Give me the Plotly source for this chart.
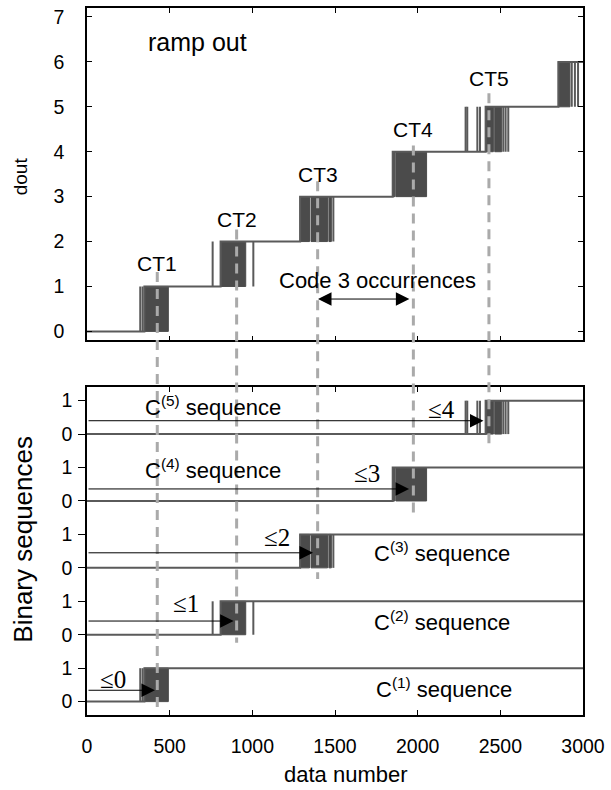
import plotly.graph_objects as go
from plotly.subplots import make_subplots

# ---- data -------------------------------------------------------------
X_MAX = 3000
N_CODES = 6

# dense toggling bursts for every code transition k-1 -> k (data-number intervals)
bursts = {
    1: [[347, 492]],
    2: [[808, 960]],
    3: [[1289, 1346], [1355, 1455], [1463, 1478]],
    4: [[1849, 1862], [1868, 2054]],
    5: [[2411, 2458], [2466, 2508]],
    6: [[2851, 2921]],
}
# isolated single toggles around each transition
spikes = {
    1: [322, 336],
    2: [760, 1006],
    3: [1490],
    4: [],
    5: [2290, 2300, 2361, 2377, 2518, 2532, 2548],
    6: [2932, 2951, 2970],
}

ct_names = ["CT1", "CT2", "CT3", "CT4", "CT5"]
ct_x = [425, 905, 1395, 1974, 2431]
ct_label_y = [1.52, 2.49, 3.50, 4.49, 5.62]
ct_line_top = [1.32, 2.27, 3.34, 4.14, 5.30]      # dout value where marker starts
seq_line_end = [-0.28, -0.24, -0.33, -0.45, -0.39]  # offset below each C(k) low level

arrow_tip_x = [411, 887, 1367, 1948, 2398]
arrow_y = [0.34, 0.41, 0.45, 0.36, 0.40]           # offset above each C(k) low level
le_labels = ["\u22640", "\u22641", "\u22642", "\u22643", "\u22644"]
le_label_x = [159, 596, 1147, 1693, 2146]
le_label_y = [0.65, 0.94, 0.91, 0.82, 0.75]
seq_label_x = [2160, 2148, 2148, 764, 764]
seq_label_y = [0.42, 0.41, 0.46, 0.96, 0.84]

x_ticks = [0, 500, 1000, 1500, 2000, 2500, 3000]
top_ticks = [0, 1, 2, 3, 4, 5, 6, 7]
bin_tick_vals = list(range(10))
bin_tick_text = ["0", "1"] * 5

TOP_RANGE = [-0.2, 7.2]
BOT_RANGE = [-0.4, 9.41]
TOP_DOMAIN = [0.5299, 1.0]
BOT_DOMAIN = [0.0, 0.464]

LINE = "#5a5a5a"
BLOCK = "#4b4b4b"
DASH = "#aaaaaa"
FONT = "Liberation Sans, Arial, Helvetica, sans-serif"
SERIF = "Liberation Serif, Times New Roman, serif"


def block_start(k):
    return min(b[0] for b in bursts[k])


def burst_and_spike_paths(levels, lo_of, hi_of):
    """Burst rectangles and single-toggle spikes for the transitions in `levels`."""
    bx, by, px, py = [], [], [], []
    for k in levels:
        lo, hi = lo_of(k), hi_of(k)
        for x0, x1 in bursts[k]:
            bx += [x0, x1, x1, x0, x0, None]
            by += [lo, lo, hi, hi, lo, None]
        for x in spikes[k]:
            px += [x, x, None]
            py += [lo, hi, None]
    return bx, by, px, py


fig = make_subplots(rows=2, cols=1, shared_xaxes=False, vertical_spacing=0.05)

# ---- top panel: ramp output -------------------------------------------
step_x, step_y = [0], [0]
for k in range(1, N_CODES + 1):
    s = block_start(k)
    step_x += [s, s]
    step_y += [k - 1, k]
step_x.append(X_MAX)
step_y.append(N_CODES)

bx, by, px, py = burst_and_spike_paths(range(1, N_CODES + 1), lambda k: k - 1, lambda k: k)
fig.add_trace(go.Scatter(x=bx, y=by, mode="lines", fill="toself", fillcolor=BLOCK,
                         line=dict(color=BLOCK, width=1), hoverinfo="skip"), row=1, col=1)
fig.add_trace(go.Scatter(x=px, y=py, mode="lines", line=dict(color=LINE, width=2),
                         hoverinfo="skip"), row=1, col=1)
fig.add_trace(go.Scatter(x=step_x, y=step_y, mode="lines", line=dict(color=LINE, width=2),
                         hoverinfo="skip"), row=1, col=1)

# ---- bottom panel: binary sequences C(1)..C(5) --------------------------
seq_x, seq_y = [], []
for k in range(1, 6):
    lo = 2 * (k - 1)
    s = block_start(k)
    seq_x += [0, s, s, X_MAX, None]
    seq_y += [lo, lo, lo + 1, lo + 1, None]
bx, by, px, py = burst_and_spike_paths(range(1, 6), lambda k: 2 * (k - 1),
                                       lambda k: 2 * (k - 1) + 1)
fig.add_trace(go.Scatter(x=bx, y=by, mode="lines", fill="toself", fillcolor=BLOCK,
                         line=dict(color=BLOCK, width=1), hoverinfo="skip"), row=2, col=1)
fig.add_trace(go.Scatter(x=px, y=py, mode="lines", line=dict(color=LINE, width=2),
                         hoverinfo="skip"), row=2, col=1)
fig.add_trace(go.Scatter(x=seq_x, y=seq_y, mode="lines", line=dict(color=LINE, width=2),
                         hoverinfo="skip"), row=2, col=1)


# ---- helpers mapping axis values to paper fractions ---------------------
def top_paper(v):
    f = (v - TOP_RANGE[0]) / (TOP_RANGE[1] - TOP_RANGE[0])
    return TOP_DOMAIN[0] + f * (TOP_DOMAIN[1] - TOP_DOMAIN[0])


def bot_paper(v):
    f = (v - BOT_RANGE[0]) / (BOT_RANGE[1] - BOT_RANGE[0])
    return BOT_DOMAIN[0] + f * (BOT_DOMAIN[1] - BOT_DOMAIN[0])


# dashed code-transition markers running through both panels
shapes = []
for i, x in enumerate(ct_x):
    lo = 2 * i
    shapes.append(dict(type="line", xref="x", yref="paper", x0=x, x1=x,
                       y0=top_paper(ct_line_top[i]), y1=bot_paper(lo + seq_line_end[i]),
                       line=dict(color=DASH, width=3, dash="10px,7px"), layer="above"))


def label(x, y, text, size, xref="x", yref="y", family=FONT, angle=0):
    return dict(x=x, y=y, xref=xref, yref=yref, text=text, showarrow=False,
                xanchor="center", yanchor="middle", textangle=angle,
                font=dict(size=size, color="black", family=family))


annotations = []
for name, x, y in zip(ct_names, ct_x, ct_label_y):
    annotations.append(label(x, y, name, 21))
annotations.append(label(668, 6.45, "ramp out", 25))
annotations.append(label(1757, 1.13, "Code 3 occurrences", 22))
annotations.append(dict(x=1950, y=0.72, ax=1388, ay=0.72, xref="x", yref="y",
                        axref="x", ayref="y", text="", showarrow=True, arrowhead=2,
                        startarrowhead=2, arrowside="end+start", arrowsize=2.7,
                        startarrowsize=2.7, arrowwidth=1, arrowcolor="black"))

# bottom panel arrows and labels
for i in range(5):
    lo = 2 * i
    annotations.append(dict(x=arrow_tip_x[i], y=lo + arrow_y[i], ax=0, ay=lo + arrow_y[i],
                            xref="x2", yref="y2", axref="x2", ayref="y2", text="",
                            showarrow=True, arrowhead=2, arrowsize=2.7, arrowwidth=1,
                            arrowcolor="black", standoff=0))
    annotations.append(label(le_label_x[i], lo + le_label_y[i], le_labels[i], 25,
                             xref="x2", yref="y2", family=SERIF))
    annotations.append(label(seq_label_x[i], lo + seq_label_y[i],
                             "C<sup>(%d)</sup> sequence" % (i + 1), 22,
                             xref="x2", yref="y2"))

# axis titles
annotations.append(label(-0.135, 0.762, "dout", 19, xref="paper", yref="paper", angle=-90))
annotations.append(label(-0.129, 0.248, "Binary sequences", 26, xref="paper", yref="paper",
                         angle=-90))
annotations.append(label(0.522, -0.0846, "data number", 22, xref="paper", yref="paper"))

axis_common = dict(showline=True, linecolor="black", linewidth=1.5, showgrid=False,
                   zeroline=False, tickcolor="black",
                   tickfont=dict(size=19.5, color="black", family=FONT))

fig.update_layout(
    width=611, height=790,
    margin=dict(l=87, r=28, t=6, b=75),
    paper_bgcolor="white", plot_bgcolor="white",
    showlegend=False, hovermode=False,
    shapes=shapes, annotations=annotations,
    xaxis=dict(domain=[0, 1], range=[0, X_MAX], tickvals=x_ticks, showticklabels=False,
               ticks="inside", ticklen=5, mirror="ticks", anchor="y", **axis_common),
    yaxis=dict(domain=TOP_DOMAIN, range=TOP_RANGE, tickvals=top_ticks, ticks="inside",
               ticklen=5, mirror="ticks", ticklabelstandoff=17, anchor="x", **axis_common),
    xaxis2=dict(domain=[0, 1], range=[0, X_MAX], tickvals=x_ticks, ticks="inside",
                ticklen=5, mirror="ticks", ticklabelstandoff=13, anchor="y2", **axis_common),
    yaxis2=dict(domain=BOT_DOMAIN, range=BOT_RANGE, tickvals=bin_tick_vals,
                ticktext=bin_tick_text, ticks="outside", ticklen=7, mirror=True,
                ticklabelstandoff=2, anchor="x2", **axis_common),
)

fig.write_html("out.html")
